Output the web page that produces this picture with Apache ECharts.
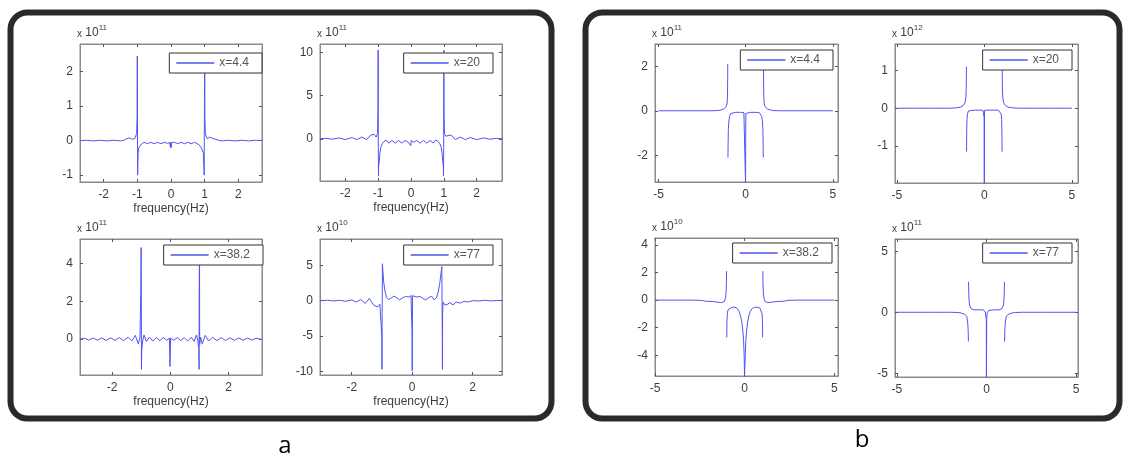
<!DOCTYPE html>
<html><head><meta charset="utf-8">
<script src="https://cdn.jsdelivr.net/npm/echarts@6/dist/echarts.min.js"></script>
<style>html,body{margin:0;padding:0;background:#fff}#c{width:1124px;height:457px}</style>
</head><body><div id="c"></div><script>
// ---------------- data (frequency, amplitude) ----------------
const curveA1 = [[-2.7,0],[-2.5,0.01],[-2.3,-0.01],[-2.1,0.01],[-1.9,-0.01],[-1.7,0.01],[-1.5,-0.01],[-1.38,0.02],[-1.25,0.08],[-1.15,0.04],[-1.07,0.06],[-1.02,0.2],[-1.005,0.7],[-1.0,2.45],[-0.997,1.55],[-0.994,1.6],[-0.99,-1.0],[-0.985,-0.7],[-0.975,-0.35],[-0.96,-0.22],[-0.93,-0.17],[-0.88,-0.1],[-0.8,-0.05],[-0.7,-0.09],[-0.6,-0.05],[-0.5,-0.09],[-0.4,-0.05],[-0.3,-0.09],[-0.2,-0.05],[-0.1,-0.08],[-0.04,-0.06],[-0.015,-0.2],[-0.005,-0.05],[0.005,-0.2],[0.015,-0.06],[0.04,-0.08],[0.1,-0.05],[0.2,-0.09],[0.3,-0.05],[0.4,-0.09],[0.5,-0.05],[0.6,-0.09],[0.7,-0.05],[0.8,-0.1],[0.88,-0.17],[0.93,-0.22],[0.96,-0.35],[0.975,-0.7],[0.985,-1.0],[0.99,0.7],[0.994,1.35],[0.997,1.3],[1.0,2.4],[1.005,0.7],[1.02,0.2],[1.07,0.06],[1.15,0.1],[1.25,0.06],[1.38,0.02],[1.5,-0.01],[1.7,0.01],[1.9,-0.01],[2.1,0.01],[2.3,-0.01],[2.5,0.01],[2.7,0]];
const curveA2 = [[-2.77,0],[-2.6,0.05],[-2.4,-0.05],[-2.2,0.1],[-2.0,-0.1],[-1.8,0.15],[-1.65,-0.1],[-1.5,0.2],[-1.35,-0.1],[-1.22,0.45],[-1.12,0.5],[-1.06,0.2],[-1.02,0.6],[-1.005,3],[-1.002,5.7],[-1.0,10.3],[-0.998,3],[-0.995,-1],[-0.99,-4.3],[-0.985,-3.2],[-0.97,-2.8],[-0.95,-1.8],[-0.92,-1.0],[-0.88,-0.6],[-0.82,-0.3],[-0.75,-0.15],[-0.68,-0.5],[-0.58,-0.2],[-0.48,-0.5],[-0.38,-0.2],[-0.28,-0.5],[-0.18,-0.2],[-0.08,-0.4],[-0.02,-0.2],[-0.005,-0.8],[0.005,-0.2],[0.08,-0.4],[0.18,-0.2],[0.28,-0.5],[0.38,-0.2],[0.48,-0.5],[0.58,-0.2],[0.68,-0.5],[0.75,-0.15],[0.82,-0.3],[0.88,-0.6],[0.92,-1.0],[0.95,-1.8],[0.97,-2.8],[0.985,-3.2],[0.99,-4.3],[0.995,-1],[0.998,6.5],[1.0,10.3],[1.002,7.5],[1.005,3],[1.02,0.6],[1.06,0.3],[1.12,0.5],[1.22,0.45],[1.35,-0.1],[1.5,0.2],[1.65,-0.1],[1.8,0.15],[2.0,-0.1],[2.2,0.1],[2.4,-0.05],[2.6,0.05],[2.77,0]];
const curveA3 = [[-3.1,0],[-2.95,0.05],[-2.8,-0.05],[-2.65,0.06],[-2.5,-0.06],[-2.35,0.06],[-2.2,-0.07],[-2.05,0.07],[-1.9,-0.07],[-1.75,0.08],[-1.6,-0.08],[-1.45,0.1],[-1.32,-0.1],[-1.2,0.2],[-1.1,-0.25],[-1.04,0.1],[-1.01,2.7],[-1.0,4.85],[-0.995,2.6],[-0.99,-1.6],[-0.98,-0.6],[-0.95,-0.1],[-0.9,0.22],[-0.82,-0.12],[-0.72,0.1],[-0.6,-0.1],[-0.48,0.08],[-0.36,-0.08],[-0.24,0.08],[-0.12,-0.06],[-0.03,0.05],[-0.01,-1.45],[0,-1.45],[0.01,0.05],[0.12,-0.06],[0.24,0.08],[0.36,-0.08],[0.48,0.08],[0.6,-0.1],[0.72,0.1],[0.82,-0.12],[0.9,0.22],[0.95,-0.1],[0.98,-0.6],[0.99,-1.6],[0.995,2.6],[1.0,4.5],[1.005,3.8],[1.01,-0.3],[1.04,0.1],[1.1,-0.25],[1.2,0.2],[1.32,-0.1],[1.45,0.1],[1.6,-0.08],[1.75,0.08],[1.9,-0.07],[2.05,0.07],[2.2,-0.07],[2.35,0.06],[2.5,-0.06],[2.65,0.06],[2.8,-0.05],[2.95,0.05],[3.1,0]];
const curveA4 = [[-3,0],[-2.8,0.05],[-2.6,-0.05],[-2.4,0.05],[-2.2,-0.1],[-2.0,0.1],[-1.85,-0.2],[-1.7,0.15],[-1.55,-0.4],[-1.42,0.3],[-1.28,-0.6],[-1.15,-0.9],[-1.07,-0.5],[-1.02,-0.3],[-1.005,-5],[-1.0,-9.7],[-0.995,-2],[-0.985,5.2],[-0.97,4.2],[-0.94,2.5],[-0.9,1.3],[-0.85,0.5],[-0.78,0.15],[-0.68,0.4],[-0.6,0.65],[-0.5,0.35],[-0.42,0.1],[-0.32,0.4],[-0.22,0.6],[-0.12,0.5],[-0.04,0.7],[-0.01,0.7],[-0.005,-4.5],[0,-9.9],[0.005,-4.5],[0.01,0.7],[0.06,0.7],[0.16,0.5],[0.26,0.6],[0.36,0.3],[0.45,0.1],[0.55,0.45],[0.65,0.6],[0.73,0.1],[0.8,0.4],[0.86,1.2],[0.91,2.4],[0.95,3.8],[0.98,4.8],[0.99,4.7],[0.995,-5],[1.0,-9.7],[1.005,-2],[1.02,-0.2],[1.08,-0.6],[1.15,-0.55],[1.25,-0.3],[1.35,-0.6],[1.45,-0.2],[1.58,-0.35],[1.72,-0.1],[1.85,-0.2],[2.0,0],[2.2,-0.05],[2.4,0.05],[2.6,-0.05],[2.8,0.03],[3,0]];
const curveB1 = [[-5,0],[-4,0],[-3,0],[-2,0],[-1.6,0.01],[-1.4,0.04],[-1.25,0.08],[-1.12,0.18],[-1.06,0.35],[-1.04,0.7],[-1.03,1.4],[-1.025,2.1],[-1.02,null],[-1.015,-2.1],[-1.005,-1.5],[-0.99,-0.8],[-0.96,-0.45],[-0.92,-0.25],[-0.86,-0.13],[-0.78,-0.08],[-0.6,-0.07],[-0.3,-0.07],[-0.1,-0.08],[-0.03,-0.1],[-0.01,-0.12],[-0.004,-3.3],[0.004,-3.3],[0.01,-0.12],[0.03,-0.1],[0.1,-0.08],[0.3,-0.07],[0.6,-0.07],[0.78,-0.08],[0.86,-0.13],[0.92,-0.25],[0.96,-0.45],[0.99,-0.8],[1.005,-1.5],[1.015,-2.1],[1.02,null],[1.025,2.1],[1.03,1.4],[1.04,0.7],[1.06,0.35],[1.12,0.18],[1.25,0.08],[1.4,0.04],[1.6,0.01],[2,0],[3,0],[4,0],[5,0]];
const curveB2 = [[-5,0],[-4,0],[-3,0],[-2,0],[-1.6,0.01],[-1.35,0.03],[-1.2,0.07],[-1.1,0.15],[-1.05,0.3],[-1.03,0.6],[-1.02,1.1],[-1.018,null],[-1.015,-1.15],[-1.005,-0.6],[-0.99,-0.3],[-0.96,-0.15],[-0.9,-0.07],[-0.8,-0.05],[-0.5,-0.05],[-0.2,-0.05],[-0.08,-0.06],[-0.04,-0.12],[-0.02,-0.2],[-0.01,-0.08],[0,-2.0],[0.005,-2.0],[0.01,-0.06],[0.08,-0.05],[0.2,-0.05],[0.5,-0.05],[0.8,-0.05],[0.9,-0.07],[0.96,-0.15],[0.99,-0.3],[1.005,-0.6],[1.015,-1.15],[1.018,null],[1.02,1.1],[1.03,0.6],[1.05,0.3],[1.1,0.15],[1.2,0.07],[1.35,0.03],[1.6,0.01],[2,0],[3,0],[4,0],[5,0]];
const curveB3 = [[-5,0],[-4,0],[-3,0],[-2.4,-0.02],[-2.2,-0.08],[-1.8,-0.1],[-1.5,-0.15],[-1.3,-0.18],[-1.15,-0.12],[-1.08,0.1],[-1.04,0.5],[-1.02,1.2],[-1.01,2.1],[-1.005,null],[-1.0,-2.7],[-0.99,-1.6],[-0.97,-1.0],[-0.93,-0.7],[-0.85,-0.58],[-0.7,-0.52],[-0.55,-0.52],[-0.42,-0.6],[-0.32,-0.8],[-0.24,-1.1],[-0.16,-1.6],[-0.1,-2.3],[-0.06,-3.0],[-0.03,-4.0],[-0.01,-5.6],[0.01,-5.6],[0.03,-4.0],[0.06,-3.0],[0.1,-2.3],[0.16,-1.6],[0.24,-1.1],[0.32,-0.8],[0.42,-0.6],[0.55,-0.52],[0.7,-0.52],[0.85,-0.58],[0.93,-0.7],[0.97,-1.0],[0.99,-1.6],[1.0,-2.7],[1.005,null],[1.01,2.1],[1.02,1.2],[1.04,0.5],[1.08,0.1],[1.15,-0.12],[1.3,-0.18],[1.5,-0.15],[1.8,-0.1],[2.2,-0.08],[2.4,-0.02],[3,0],[4,0],[5,0]];
const curveB4 = [[-5,0],[-4,0],[-3,0],[-2,0],[-1.6,-0.02],[-1.4,-0.06],[-1.2,-0.18],[-1.1,-0.35],[-1.05,-0.8],[-1.02,-1.5],[-1.01,-2.4],[-1.005,null],[-1.0,2.5],[-0.99,1.6],[-0.97,0.9],[-0.93,0.5],[-0.86,0.3],[-0.7,0.2],[-0.4,0.2],[-0.2,0.2],[-0.12,0.15],[-0.07,0.05],[-0.03,-0.1],[-0.01,-0.6],[-0.004,-5.4],[0.004,-5.4],[0.01,-0.6],[0.03,-0.1],[0.07,0.05],[0.12,0.15],[0.2,0.2],[0.4,0.2],[0.7,0.2],[0.86,0.3],[0.93,0.5],[0.97,0.9],[0.99,1.6],[1.0,2.5],[1.005,null],[1.01,-2.4],[1.02,-1.5],[1.05,-0.8],[1.1,-0.35],[1.2,-0.18],[1.4,-0.06],[1.6,-0.02],[2,0],[3,0],[4,0],[5,0]];

// ---------------- tick labels ----------------
const xTicksA12 = [-2,-1,0,1,2];
const xTicksA34 = [-2,0,2];
const xTicksB = [-5,0,5];
const yTicksA1 = [-1,0,1,2];
const yTicksA2 = [0,5,10];
const yTicksA3 = [0,2,4];
const yTicksA4 = [-10,-5,0,5];
const yTicksB1 = [-2,0,2];
const yTicksB2 = [-1,0,1];
const yTicksB3 = [-4,-2,0,2,4];
const yTicksB4 = [-5,0,5];
const legendNames = ['x=4.4','x=20','x=38.2','x=77'];
const exponents = ['11','11','11','10','11','12','10','11'];
const xAxisTitle = 'frequency(Hz)';

// ---------------- layout ----------------
const panels = [
  {data:curveA1, name:legendNames[0], exp:exponents[0], xt:xTicksA12, yt:yTicksA1, xr:[-2.7,2.7],  yr:[-1.2,2.8],  g:[80,44,182,138],  lg:[862,53], xn:xAxisTitle},
  {data:curveA2, name:legendNames[1], exp:exponents[1], xt:xTicksA12, yt:yTicksA2, xr:[-2.77,2.77],yr:[-4.9,11],   g:[320,44,182,137], lg:[631,53], xn:xAxisTitle},
  {data:curveA3, name:legendNames[2], exp:exponents[2], xt:xTicksA34, yt:yTicksA3, xr:[-3.1,3.15], yr:[-1.9,5.3],  g:[80,239,182,136], lg:[861,245], xn:xAxisTitle},
  {data:curveA4, name:legendNames[3], exp:exponents[3], xt:xTicksA34, yt:yTicksA4, xr:[-3.05,2.97],yr:[-10.5,8.7], g:[320,239,182,136],lg:[631,245], xn:xAxisTitle},
  {data:curveB1, name:legendNames[0], exp:exponents[4], xt:xTicksB, yt:yTicksB1, xr:[-5.2,5.3], yr:[-3.2,3.0],  g:[655,44,183,138], lg:[291,50], xn:''},
  {data:curveB2, name:legendNames[1], exp:exponents[5], xt:xTicksB, yt:yTicksB2, xr:[-5.1,5.35],yr:[-1.98,1.7], g:[895,44,183,139], lg:[52,50],  xn:''},
  {data:curveB3, name:legendNames[2], exp:exponents[6], xt:xTicksB, yt:yTicksB3, xr:[-5.0,5.2], yr:[-5.5,4.5], g:[655,238,183,138],lg:[292,243], xn:''},
  {data:curveB4, name:legendNames[3], exp:exponents[7], xt:xTicksB, yt:yTicksB4, xr:[-5.1,5.1], yr:[-5.3,6.0], g:[895,239,183,138],lg:[52,243], xn:''}
];

const LINE = '#5252f5';
const AX = '#8a8a8a';
const TXT = '#3c3c3c';
const FONT = 'Liberation Sans, Arial, sans-serif';

const grid=[], xAxis=[], yAxis=[], series=[], legend=[];
panels.forEach((p,i)=>{
  grid.push({left:p.g[0], top:p.g[1], width:p.g[2], height:p.g[3], show:true, borderColor:AX, borderWidth:1, backgroundColor:'#fff'});
  const tick = vals => ({show:true, inside:true, length:3, lineStyle:{color:'#555'}, customValues:vals});
  xAxis.push({type:'value', gridIndex:i, min:p.xr[0], max:p.xr[1], position:'bottom',
    axisLine:{show:true, onZero:false, lineStyle:{color:AX}}, splitLine:{show:false},
    axisTick:tick(p.xt), axisLabel:{customValues:p.xt, color:TXT, fontSize:12, fontFamily:FONT, margin:7},
    name:p.xn, nameLocation:'middle', nameGap:21, nameTextStyle:{color:TXT, fontSize:12, fontFamily:FONT}});
  xAxis.push({type:'value', gridIndex:i, min:p.xr[0], max:p.xr[1], position:'top',
    axisLine:{show:true, onZero:false, lineStyle:{color:AX}}, splitLine:{show:false},
    axisTick:tick(p.xt), axisLabel:{show:false}});
  yAxis.push({type:'value', gridIndex:i, min:p.yr[0], max:p.yr[1], position:'left',
    axisLine:{show:true, onZero:false, lineStyle:{color:AX}}, splitLine:{show:false},
    axisTick:tick(p.yt), axisLabel:{customValues:p.yt, color:TXT, fontSize:12, fontFamily:FONT, margin:7},
    name:'{x|x}{b| 10}{s|'+p.exp+'}', nameLocation:'end', nameGap:5,
    nameTextStyle:{align:'left', verticalAlign:'bottom', padding:[0,0,0,-3], fontFamily:FONT,
      rich:{x:{fontSize:10, color:TXT, fontFamily:FONT, verticalAlign:'bottom', lineHeight:15},
            b:{fontSize:12, color:TXT, fontFamily:FONT, verticalAlign:'bottom', lineHeight:15},
            s:{fontSize:8, color:TXT, fontFamily:FONT, verticalAlign:'top', lineHeight:15}}}});
  yAxis.push({type:'value', gridIndex:i, min:p.yr[0], max:p.yr[1], position:'right',
    axisLine:{show:true, onZero:false, lineStyle:{color:AX}}, splitLine:{show:false},
    axisTick:tick(p.yt), axisLabel:{show:false}});
  series.push({type:'line', name:p.name, xAxisIndex:2*i, yAxisIndex:2*i,
    data:p.data.map(d=>[d[0], d[1]===null?'-':d[1]]),
    showSymbol:false, symbol:'none', connectNulls:false, clip:true, animation:false,
    lineStyle:{color:LINE, width:1}, itemStyle:{color:LINE}, z:2});
  legend.push({data:[p.name], right:p.lg[0], top:p.lg[1], orient:'horizontal',
    backgroundColor:'#fff', borderColor:'#333', borderWidth:1, borderRadius:0,
    padding:[4,13,4,7], itemWidth:38, itemHeight:1.5, icon:'rect', selectedMode:false,
    textStyle:{color:'#555', fontSize:12, fontFamily:FONT}, z:10});
});

const graphic = [
  {type:'rect', shape:{x:10.5, y:12.5, width:541, height:406, r:17}, style:{fill:'none', stroke:'#2a2a2a', lineWidth:6}, z:100},
  {type:'rect', shape:{x:585.5, y:12.5, width:534, height:406, r:17}, style:{fill:'none', stroke:'#2a2a2a', lineWidth:6}, z:100},
  {type:'text', x:285, y:446, style:{text:'a', fill:'#000', font:'24px "Open Sans", sans-serif', textAlign:'center', textVerticalAlign:'middle'}, z:100},
  {type:'text', x:862, y:440, style:{text:'b', fill:'#000', font:'24px "Open Sans", sans-serif', textAlign:'center', textVerticalAlign:'middle'}, z:100}
];

const chart = echarts.init(document.getElementById('c'), null, {renderer:'canvas'});
chart.setOption({animation:false, backgroundColor:'#fff', grid, xAxis, yAxis, series, legend, graphic});
</script></body></html>
